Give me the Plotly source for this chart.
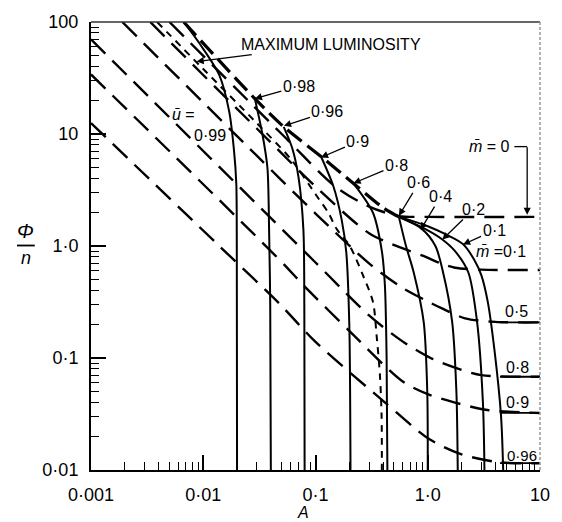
import plotly.graph_objects as go

W, H = 562, 522
ML, MR, MT, MB = 91, 16, 17, 52
PW, PH = W - ML - MR, H - MT - MB

# ---- axis ticks ----
x_tickvals = [0.001, 0.01, 0.1, 1, 10]
x_ticktext = ["0·001", "0·01", "0·1", "1·0", "10"]
y_tickvals = [0.01, 0.1, 1, 10, 100]
y_ticktext = ["0·01", "0·1", "1·0", "10", "100"]
x_minor = [m * d for d in [0.001, 0.01, 0.1, 1] for m in range(2, 10)]
y_minor = [m * d for d in [0.01, 0.1, 1, 10] for m in range(2, 10)]

# ---- u-bar curves (solid) ----
u_labels = ["0·99", "0·98", "0·96", "0·9", "0·8", "0·6", "0·4", "0·2", "0·1"]
u_A = [
    [0.0067, 0.0095, 0.0139, 0.017, 0.0188, 0.0197, 0.0199, 0.02],
    [0.0288, 0.0337, 0.0373, 0.0386, 0.0395, 0.04],
    [0.0521, 0.062, 0.0706, 0.078, 0.0795, 0.08],
    [0.112, 0.1445, 0.171, 0.188, 0.2, 0.205],
    [0.217, 0.325, 0.39, 0.415, 0.43, 0.437],
    [0.553, 0.64, 0.75, 0.92, 0.99, 1.0],
    [0.56, 0.88, 1.17, 1.37, 1.65, 1.8, 1.85],
    [0.57, 1.0, 1.34, 1.75, 2.3, 2.75, 3.1, 3.2],
    [0.58, 1.0, 1.5, 2.06, 2.6, 3.0, 3.42, 3.94, 4.5, 4.7],
]
u_phi = [
    [100, 62, 33.6, 16, 7.1, 3.6, 1.0, 0.01],
    [20.7, 9.9, 5.0, 1.4, 0.3, 0.01],
    [11.6, 7.5, 4.1, 1.4, 0.3, 0.01],
    [6.3, 3.4, 1.72, 0.88, 0.2, 0.01],
    [3.64, 1.98, 0.9, 0.45, 0.1, 0.01],
    [1.82, 1.0, 0.58, 0.21, 0.05, 0.01],
    [1.8, 1.43, 1.0, 0.58, 0.21, 0.05, 0.01],
    [1.8, 1.38, 1.15, 0.9, 0.58, 0.21, 0.04, 0.01],
    [1.8, 1.5, 1.25, 1.04, 0.75, 0.55, 0.32, 0.115, 0.03, 0.01],
]

# ---- maximum luminosity (short dashed) ----
maxlum_A = [0.00388, 0.01, 0.03, 0.06, 0.103, 0.13, 0.155, 0.202, 0.265, 0.325, 0.35, 0.375, 0.388, 0.39]
maxlum_phi = [100, 38, 12.5, 6.0, 2.78, 1.98, 1.41, 1.0, 0.546, 0.317, 0.16, 0.07, 0.03, 0.01]

# ---- envelope (thick long dashed) ----
env_A = [0.0067, 0.0288, 0.0521, 0.112, 0.217, 0.4, 0.553]
env_phi = [100, 20.7, 11.6, 6.3, 3.64, 2.2, 1.82]

# ---- m-bar curves (long dashed) ----
m_labels = ["0", "0·1", "0·5", "0·8", "0·9", "0·96"]
m_A = [
    [0.005, 0.05, 0.15, 0.3, 0.553, 1.0, 10],
    [0.00337, 0.03, 0.1, 0.3, 0.6, 0.9, 1.3, 1.75, 3.0, 10],
    [0.0019, 0.03, 0.1, 0.3, 0.6, 1.0, 1.34, 2.15, 4.0, 10],
    [0.001, 0.099, 0.3, 0.6, 1.06, 1.75, 3.0, 10],
    [0.001, 0.0456, 0.081, 0.2, 0.594, 1.0, 1.75, 3.4, 10],
    [0.001, 0.0139, 0.0488, 0.099, 0.417, 1.02, 2.0, 4.4, 10],
]
m_phi = [
    [100, 10, 3.4, 2.25, 1.85, 1.82, 1.82],
    [100, 11.2, 3.4, 1.3, 0.95, 0.82, 0.7, 0.64, 0.615, 0.61],
    [100, 6.4, 1.95, 0.7, 0.42, 0.32, 0.277, 0.226, 0.21, 0.208],
    [70, 0.72, 0.24, 0.14, 0.1, 0.082, 0.0704, 0.068],
    [34, 0.79, 0.43, 0.175, 0.062, 0.0475, 0.04, 0.0343, 0.0323],
    [12.5, 1.0, 0.2985, 0.1406, 0.04, 0.019, 0.0138, 0.0117, 0.0115],
]

fig = go.Figure()


def add(A, P, width, dash, smoothing=0.8):
    fig.add_trace(go.Scatter(
        x=A, y=P, mode="lines", hoverinfo="skip", showlegend=False,
        line=dict(color="black", width=width, dash=dash, shape="spline", smoothing=smoothing)))


for A, P in zip(m_A, m_phi):
    add(A, P, 2.4, "20px,10px")
# solid end pieces under right-hand labels
for A, P in zip(m_A[2:], m_phi[2:]):
    fig.add_trace(go.Scatter(x=[4.4, A[-1]], y=[P[-1], P[-1]], mode="lines", hoverinfo="skip",
                             showlegend=False, line=dict(color="black", width=1.8)))
add(env_A, env_phi, 3.2, "18px,7px")
add(maxlum_A, maxlum_phi, 2.0, "7px,6px")
for A, P in zip(u_A, u_phi):
    add(A, P, 2.0, "solid")


def pp(X, Y):
    return (X - ML) / PW, (H - MB - Y) / PH


FONT = "Liberation Sans, Arial, sans-serif"
ann = []


def label(text, X, Y, size=16):
    x, y = pp(X, Y)
    ann.append(dict(text=text, x=x, y=y, xref="paper", yref="paper", showarrow=False,
                    xanchor="center", yanchor="middle",
                    font=dict(size=size, family=FONT, color="black")))


def arrow_label(text, hx, hy, tx, ty, size=16):
    x, y = pp(hx, hy)
    ann.append(dict(text=text, x=x, y=y, xref="paper", yref="paper", showarrow=True,
                    ax=tx - hx, ay=ty - hy, arrowhead=2, arrowsize=1.1, arrowwidth=1.3,
                    xanchor="center", yanchor="middle",
                    arrowcolor="black", font=dict(size=size, family=FONT, color="black")))


arrow_label("MAXIMUM LUMINOSITY", 198, 57, 332, 40)
u_heads = [(257, 94.5), (286.5, 122), (324, 154), (357, 180), (403, 213), (425, 227), (447, 237), (468, 242)]
u_texts = [(301, 82), (330, 108), (361, 138), (400, 162), (423, 180), (445, 194), (478, 207), (499, 228)]
for lab, (hx, hy), (tx, ty) in zip(u_labels[1:], u_heads, u_texts):
    arrow_label(lab, hx, hy, tx, ty)

label("<i>ū</i> =", 185, 111)
label(u_labels[0], 212, 132)
label("<i>m̄</i> = " + m_labels[0], 495, 143)
label("<i>m̄</i> =" + m_labels[1], 506, 249)
label(m_labels[2], 522, 310)
label(m_labels[3], 523, 366)
label(m_labels[4], 523, 402)
label(m_labels[5], 528, 455, size=15)
# m-bar = 0 leader arrow
hx, hy = pp(533, 212)
ann.append(dict(text="", x=hx, y=hy, xref="paper", yref="paper", showarrow=True, ax=0, ay=-69,
                arrowhead=2, arrowsize=1.1, arrowwidth=1.3, arrowcolor="black"))

# axis titles
label("<i>Φ</i>", 25, 228, size=20)
label("<i>n</i>", 25, 256, size=18)
label("<i>A</i>", 306, 513, size=16)

shapes = []
x0, y0 = pp(520, 143)
x1, y1 = pp(533, 143)
shapes.append(dict(type="line", xref="paper", yref="paper", x0=x0, y0=y0, x1=x1, y1=y1,
                   line=dict(color="black", width=1.3)))
x0, y0 = pp(16, 243)
x1, y1 = pp(34, 243)
shapes.append(dict(type="line", xref="paper", yref="paper", x0=x0, y0=y0, x1=x1, y1=y1,
                   line=dict(color="black", width=1.8)))
shapes.append(dict(type="line", xref="paper", yref="paper", x0=0, y0=1, x1=1, y1=1,
                   line=dict(color="#333", width=1.5)))
shapes.append(dict(type="line", xref="paper", yref="paper", x0=1, y0=0, x1=1, y1=1,
                   line=dict(color="#999", width=1.5, dash="3px,2px")))

axis_common = dict(type="log", showgrid=False, zeroline=False, showline=True, linecolor="black",
                   linewidth=2, ticks="inside", ticklen=15, tickwidth=1.5, tickcolor="black",
                   tickfont=dict(size=18, family=FONT, color="black"), ticklabelstandoff=7)

fig.update_layout(
    width=W, height=H, margin=dict(l=ML, r=MR, t=MT, b=MB),
    paper_bgcolor="white", plot_bgcolor="white",
    xaxis=dict(range=[-3, 1], tickmode="array", tickvals=x_tickvals, ticktext=x_ticktext,
               minor=dict(tickmode="array", tickvals=x_minor, ticks="inside", ticklen=8,
                          tickwidth=1.2, tickcolor="black"), **axis_common),
    yaxis=dict(range=[-2, 2], tickmode="array", tickvals=y_tickvals, ticktext=y_ticktext,
               minor=dict(tickmode="array", tickvals=y_minor, ticks="inside", ticklen=8,
                          tickwidth=1.2, tickcolor="black"), **axis_common),
    annotations=ann, shapes=shapes,
)

fig.write_html("out.html")
